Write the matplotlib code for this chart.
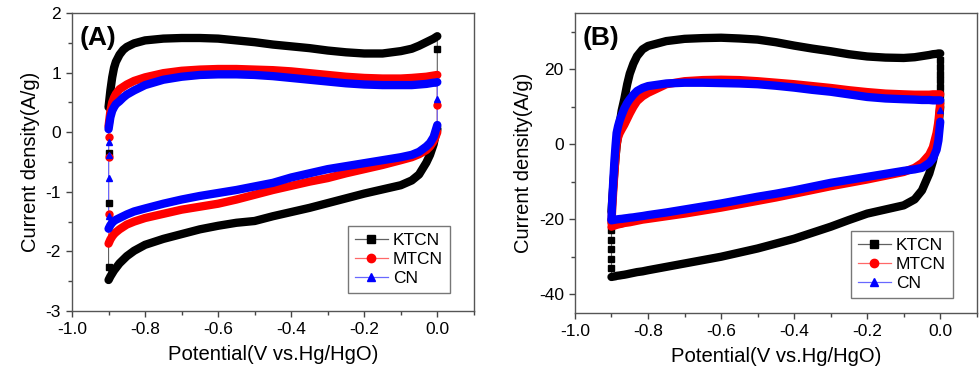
"""Cyclic voltammograms of KTCN, MTCN and CN, panels (A) and (B)."""
import matplotlib
matplotlib.use("Agg")
import matplotlib.pyplot as plt
from matplotlib.ticker import MultipleLocator, FormatStrFormatter

plt.rcParams["font.family"] = ["Liberation Sans", "DejaVu Sans"]
plt.rcParams["axes.unicode_minus"] = False

LABELS = ["KTCN", "MTCN", "CN"]
SCAN_LO, SCAN_HI = -0.9, 0.0

# ---- panel A (low scan rate) ----
V_A = [-0.9, -0.895, -0.89, -0.885, -0.88, -0.87, -0.86, -0.85, -0.83, -0.8,
       -0.75, -0.7, -0.65, -0.6, -0.55, -0.5, -0.45, -0.4, -0.35, -0.3,
       -0.25, -0.2, -0.15, -0.1, -0.07, -0.05, -0.03, -0.02, -0.01, -0.005, 0.0]

KTCN_A_UP = [0.42, 0.7, 0.92, 1.08, 1.18, 1.3, 1.38, 1.43, 1.49, 1.54,
             1.57, 1.58, 1.58, 1.57, 1.54, 1.51, 1.47, 1.44, 1.41, 1.37,
             1.34, 1.32, 1.32, 1.36, 1.40, 1.45, 1.51, 1.54, 1.57, 1.59, 1.61]
KTCN_A_DOWN = [-2.48, -2.42, -2.37, -2.32, -2.28, -2.2, -2.14, -2.08, -1.99, -1.89,
               -1.79, -1.71, -1.63, -1.57, -1.52, -1.49, -1.41, -1.34, -1.27, -1.19,
               -1.11, -1.03, -0.96, -0.89, -0.81, -0.71, -0.51, -0.38, -0.2, -0.05, 0.05]
KTCN_A_JUMP_LO = [-2.27, -1.18, -0.35]
KTCN_A_JUMP_HI = [1.4, 0.07]

MTCN_A_UP = [0.1, 0.35, 0.5, 0.58, 0.64, 0.72, 0.76, 0.8, 0.86, 0.92,
             0.99, 1.03, 1.05, 1.06, 1.06, 1.05, 1.04, 1.02, 0.99, 0.96,
             0.93, 0.91, 0.90, 0.90, 0.91, 0.92, 0.93, 0.94, 0.95, 0.955, 0.96]
MTCN_A_DOWN = [-1.87, -1.80, -1.75, -1.71, -1.68, -1.63, -1.59, -1.55, -1.5, -1.44,
               -1.37, -1.3, -1.25, -1.2, -1.13, -1.05, -0.97, -0.9, -0.83, -0.77,
               -0.69, -0.62, -0.55, -0.47, -0.42, -0.37, -0.3, -0.24, -0.15, -0.08, 0.0]
MTCN_A_JUMP_LO = [-1.37, -0.42, -0.08]
MTCN_A_JUMP_HI = [0.46]

CN_A_UP = [0.05, 0.25, 0.36, 0.42, 0.47, 0.52, 0.58, 0.63, 0.70, 0.79,
           0.88, 0.93, 0.96, 0.97, 0.97, 0.96, 0.94, 0.91, 0.88, 0.85,
           0.82, 0.80, 0.79, 0.79, 0.79, 0.80, 0.81, 0.82, 0.83, 0.83, 0.84]
CN_A_DOWN = [-1.62, -1.56, -1.52, -1.49, -1.47, -1.44, -1.41, -1.38, -1.33, -1.28,
             -1.2, -1.13, -1.07, -1.02, -0.97, -0.91, -0.85, -0.76, -0.69, -0.62,
             -0.57, -0.52, -0.47, -0.42, -0.38, -0.33, -0.24, -0.18, -0.08, 0.02, 0.12]
CN_A_JUMP_LO = [-1.41, -0.77, -0.39, -0.17]
CN_A_JUMP_HI = [0.55]

# ---- panel B (high scan rate) ----
V_B = [-0.9, -0.898, -0.895, -0.892, -0.889, -0.886, -0.882, -0.878, -0.872, -0.865,
       -0.857, -0.85, -0.84, -0.83, -0.815, -0.8, -0.75, -0.7, -0.65, -0.6,
       -0.55, -0.5, -0.45, -0.4, -0.35, -0.3, -0.25, -0.2, -0.15, -0.1,
       -0.07, -0.05, -0.03, -0.02, -0.01, -0.005, 0.0]

KTCN_B_UP = [-18.0, -15.0, -11.0, -7.0, -3.5, -0.5, 2.5, 5.2, 9.0, 12.0,
             16.0, 18.8, 21.5, 23.5, 25.3, 26.2, 27.5, 28.1, 28.3, 28.4,
             28.2, 27.9, 27.2, 26.3, 25.5, 24.8, 24.0, 23.4, 23.1, 23.0,
             23.2, 23.5, 23.8, 24.0, 24.1, 24.2, 24.2]
KTCN_B_DOWN = [-35.4, -35.35, -35.3, -35.25, -35.2, -35.1, -35.05, -35.0, -34.9, -34.8,
               -34.65, -34.5, -34.3, -34.1, -33.9, -33.6, -32.7, -31.8, -30.9, -30.0,
               -28.9, -27.8, -26.5, -25.2, -23.6, -22.0, -20.2, -18.5, -17.4, -16.3,
               -14.7, -12.3, -7.8, -4.5, 0.5, 4.5, 10.0]
KTCN_B_JUMP_LO = [-33.0, -30.5, -28.0, -25.5, -23.0, -20.5]
KTCN_B_JUMP_HI = [22.4, 20.6, 18.8, 17.0, 15.2, 13.4, 11.6]

MTCN_B_UP = [-21.0, -17.0, -12.0, -7.5, -3.5, 0.0, 1.8, 2.9, 4.0, 5.2,
             6.8, 8.2, 10.0, 11.5, 12.8, 13.7, 16.0, 16.8, 17.1, 17.2,
             17.1, 16.8, 16.4, 16.0, 15.5, 15.0, 14.4, 13.9, 13.5, 13.3,
             13.2, 13.2, 13.2, 13.3, 13.3, 13.3, 13.3]
MTCN_B_DOWN = [-22.0, -21.9, -21.8, -21.7, -21.6, -21.5, -21.4, -21.3, -21.2, -21.0,
               -20.9, -20.8, -20.6, -20.4, -20.1, -19.9, -19.2, -18.5, -17.7, -16.9,
               -16.0, -15.1, -14.2, -13.2, -12.2, -11.2, -10.3, -9.4, -8.4, -7.4,
               -6.3, -5.0, -2.8, -0.8, 3.0, 6.0, 11.0]
MTCN_B_JUMP_LO = []
MTCN_B_JUMP_HI = []

CN_B_UP = [-20.0, -15.0, -9.5, -4.5, -0.5, 3.0, 4.8, 6.2, 7.8, 9.5,
           11.0, 12.0, 13.2, 14.2, 15.0, 15.5, 16.2, 16.4, 16.4, 16.3,
           16.2, 16.0, 15.6, 15.1, 14.5, 14.0, 13.3, 12.6, 12.2, 12.0,
           11.9, 11.8, 11.8, 11.7, 11.7, 11.7, 11.7]
CN_B_DOWN = [-20.3, -20.25, -20.2, -20.15, -20.1, -20.05, -20.0, -19.95, -19.9, -19.8,
             -19.7, -19.6, -19.5, -19.35, -19.15, -18.9, -18.2, -17.4, -16.6, -15.8,
             -14.9, -14.0, -13.2, -12.3, -11.3, -10.3, -9.5, -8.7, -7.9, -7.1,
             -6.7, -6.3, -5.0, -3.8, -1.5, 1.0, 6.0]
CN_B_JUMP_LO = []
CN_B_JUMP_HI = [9.0]

COLORS = ["#000000", "#ff0000", "#0000ff"]
LINE_COLORS = ["#606060", "#ff6868", "#6868ff"]
MARKERS = ["s", "o", "^"]


def draw_cv(ax, v, up, down, jump_lo, jump_hi, color, line_color, marker, label):
    # full loop: anodic sweep, jump at upper vertex, cathodic sweep, jump at lower vertex
    xs = list(v) + [SCAN_HI] * len(jump_hi) + list(v[::-1]) + [SCAN_LO] * len(jump_lo) + [v[0]]
    ys = list(up) + list(jump_hi) + list(down[::-1]) + list(jump_lo) + [up[0]]
    ax.plot(xs, ys, color=line_color, lw=0.8, zorder=2)
    # dense data points merge into a thick band along both sweeps
    for branch in (up, down):
        ax.plot(v, branch, color=color, lw=6.0, solid_capstyle="round",
                solid_joinstyle="round", zorder=3)
    ax.plot([SCAN_HI] * len(jump_hi), jump_hi, ls="none", marker=marker,
            color=color, ms=5, zorder=3)
    ax.plot([SCAN_LO] * len(jump_lo), jump_lo, ls="none", marker=marker,
            color=color, ms=5, zorder=3)
    # legend proxy
    ax.plot([], [], color=line_color, lw=0.9, marker=marker, ms=6,
            mfc=color, mec=color, label=label)


def style_axes(ax, ylim, ymajor, yminor, tag, leg_anchor):
    ax.set_xlim(-1.0, 0.1)
    ax.set_ylim(*ylim)
    ax.xaxis.set_major_locator(MultipleLocator(0.2))
    ax.xaxis.set_minor_locator(MultipleLocator(0.1))
    ax.yaxis.set_major_locator(MultipleLocator(ymajor))
    ax.yaxis.set_minor_locator(MultipleLocator(yminor))
    ax.xaxis.set_major_formatter(FormatStrFormatter("%.1f"))
    ax.yaxis.set_major_formatter(FormatStrFormatter("%d"))
    ax.tick_params(which="both", direction="out", top=False, right=False,
                   labelsize=12.5, color="#444444")
    ax.tick_params(which="major", length=4.5, width=1)
    ax.tick_params(which="minor", length=3, width=1)
    for s in ax.spines.values():
        s.set_color("#555555")
        s.set_linewidth(1.0)
    ax.set_xlabel("Potential(V vs.Hg/HgO)", fontsize=14.6, labelpad=6)
    ax.set_ylabel("Current density(A/g)", fontsize=14.5, labelpad=4)
    ax.text(0.018, 0.955, tag, transform=ax.transAxes, ha="left", va="top",
            fontsize=19, fontweight="bold")
    leg = ax.legend(loc="lower right", bbox_to_anchor=leg_anchor, fontsize=12.5,
                    frameon=True, fancybox=False, handlelength=1.9,
                    handletextpad=0.3, borderpad=0.4, labelspacing=0.22,
                    borderaxespad=0.0)
    leg.get_frame().set_edgecolor("#555555")
    leg.get_frame().set_linewidth(1.0)


fig = plt.figure(figsize=(9.8, 3.76), dpi=100)
ax1 = fig.add_axes([0.0735, 0.1729, 0.410, 0.7926])
ax2 = fig.add_axes([0.5867, 0.1676, 0.410, 0.7979])

data_a = [
    (KTCN_A_UP, KTCN_A_DOWN, KTCN_A_JUMP_LO, KTCN_A_JUMP_HI),
    (MTCN_A_UP, MTCN_A_DOWN, MTCN_A_JUMP_LO, MTCN_A_JUMP_HI),
    (CN_A_UP, CN_A_DOWN, CN_A_JUMP_LO, CN_A_JUMP_HI),
]
data_b = [
    (KTCN_B_UP, KTCN_B_DOWN, KTCN_B_JUMP_LO, KTCN_B_JUMP_HI),
    (MTCN_B_UP, MTCN_B_DOWN, MTCN_B_JUMP_LO, MTCN_B_JUMP_HI),
    (CN_B_UP, CN_B_DOWN, CN_B_JUMP_LO, CN_B_JUMP_HI),
]

for i, (up, down, jlo, jhi) in enumerate(data_a):
    draw_cv(ax1, V_A, up, down, jlo, jhi, COLORS[i], LINE_COLORS[i], MARKERS[i], LABELS[i])
for i, (up, down, jlo, jhi) in enumerate(data_b):
    draw_cv(ax2, V_B, up, down, jlo, jhi, COLORS[i], LINE_COLORS[i], MARKERS[i], LABELS[i])

style_axes(ax1, (-3, 2), 1, 0.5, "(A)", (0.94, 0.06))
style_axes(ax2, (-45, 35), 20, 10, "(B)", (0.94, 0.05))

fig.savefig("out.png", dpi=100)
